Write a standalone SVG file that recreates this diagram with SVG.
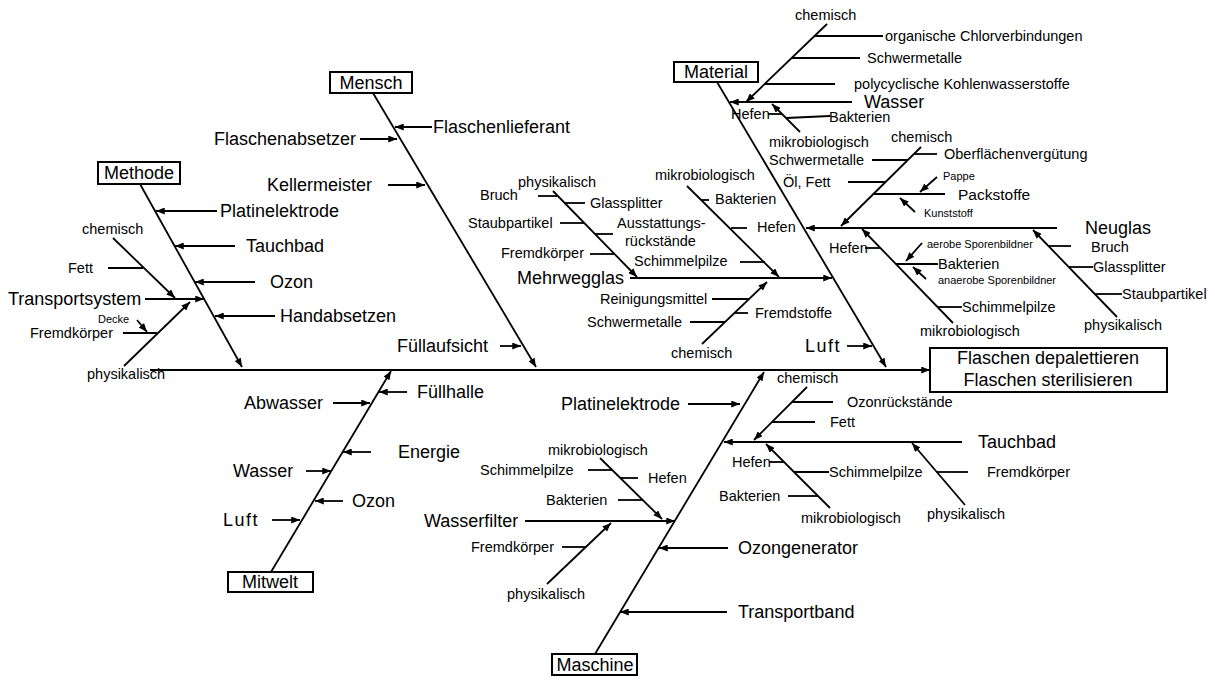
<svg xmlns="http://www.w3.org/2000/svg" width="1215" height="680" viewBox="0 0 1215 680">
  <style>
    text { font-family: "Liberation Sans", Arial, sans-serif; fill: #000; }
    .lg { font-size: 18px; }
    .md { font-size: 14.5px; }
    .sm { font-size: 11px; }
    .ctr { text-anchor: middle; }
    .sp { letter-spacing: 1.5px; }
    .box { fill: #fff; stroke: #000; stroke-width: 2; }
    .ln { stroke: #000; stroke-width: 1.8; fill: none; }
    .ar { stroke: #000; stroke-width: 1.8; fill: none; marker-end: url(#ah); }
  </style>
  <defs>
    <marker id="ah" viewBox="0 0 10 8" refX="10" refY="4" markerWidth="9" markerHeight="7" markerUnits="userSpaceOnUse" orient="auto">
      <path d="M0,0 L10,4 L0,8 z" fill="#000"/>
    </marker>
  </defs>
  <rect width="1215" height="680" fill="#fff"/>

  <!-- connectors: spine, category bones and all cause lines -->
  <g id="connectors">
    <!-- spine -->
    <line class="ar" x1="150" y1="370" x2="930" y2="370"/>

    <!-- Methode -->
    <line class="ar" x1="140" y1="184" x2="242" y2="367"/>
    <line class="ar" x1="217" y1="211" x2="156" y2="211"/>
    <line class="ar" x1="235" y1="246" x2="175" y2="246"/>
    <line class="ar" x1="255" y1="282" x2="195" y2="282"/>
    <line class="ar" x1="275" y1="316" x2="215" y2="316"/>
    <line class="ar" x1="145" y1="299" x2="204" y2="299"/>
    <line class="ar" x1="113" y1="238" x2="175" y2="298"/>
    <line class="ln" x1="108" y1="268" x2="143" y2="268"/>
    <line class="ar" x1="124" y1="366" x2="190" y2="302"/>
    <line class="ln" x1="123" y1="333" x2="157" y2="333"/>
    <line class="ar" x1="137" y1="320" x2="147" y2="332"/>

    <!-- Mensch -->
    <line class="ar" x1="373" y1="93" x2="536" y2="367"/>
    <line class="ar" x1="432" y1="127" x2="395" y2="127"/>
    <line class="ar" x1="360" y1="139" x2="397" y2="139"/>
    <line class="ar" x1="388" y1="185" x2="425" y2="185"/>
    <line class="ar" x1="500" y1="346" x2="521" y2="346"/>

    <!-- Mehrwegglas -->
    <line class="ar" x1="630" y1="278" x2="832" y2="278"/>
    <line class="ar" x1="553" y1="191" x2="637" y2="277"/>
    <line class="ln" x1="538" y1="196" x2="558" y2="196"/>
    <line class="ln" x1="565" y1="203" x2="585" y2="203"/>
    <line class="ln" x1="560" y1="223" x2="584" y2="223"/>
    <line class="ln" x1="595" y1="234" x2="613" y2="234"/>
    <line class="ln" x1="590" y1="254" x2="614" y2="254"/>
    <line class="ar" x1="687" y1="186" x2="779" y2="277"/>
    <line class="ln" x1="701" y1="200" x2="709" y2="200"/>
    <line class="ln" x1="731" y1="228" x2="747" y2="228"/>
    <line class="ln" x1="740" y1="262" x2="765" y2="262"/>
    <line class="ar" x1="702" y1="344" x2="767" y2="282"/>
    <line class="ln" x1="712" y1="299" x2="749" y2="299"/>
    <line class="ln" x1="734" y1="313" x2="748" y2="313"/>
    <line class="ln" x1="690" y1="322" x2="725" y2="322"/>

    <!-- Material -->
    <line class="ar" x1="717" y1="82" x2="886" y2="367"/>
    <line class="ar" x1="852" y1="102" x2="730" y2="102"/>
    <line class="ar" x1="827" y1="24" x2="746" y2="102"/>
    <line class="ln" x1="815" y1="36" x2="883" y2="36"/>
    <line class="ln" x1="792" y1="58" x2="860" y2="58"/>
    <line class="ln" x1="765" y1="84" x2="835" y2="84"/>
    <line class="ar" x1="800" y1="132" x2="772" y2="104"/>
    <line class="ln" x1="768" y1="114" x2="782" y2="114"/>
    <line class="ln" x1="786" y1="118" x2="830" y2="116"/>
    <line class="ar" x1="1057" y1="228" x2="806" y2="228"/>
    <line class="ar" x1="921" y1="147" x2="841" y2="226"/>
    <line class="ln" x1="914" y1="154" x2="937" y2="154"/>
    <line class="ln" x1="872" y1="160" x2="908" y2="160"/>
    <line class="ln" x1="848" y1="182" x2="886" y2="182"/>
    <line class="ln" x1="874" y1="194" x2="945" y2="194"/>
    <line class="ar" x1="937" y1="177" x2="920" y2="192"/>
    <line class="ar" x1="915" y1="212" x2="900" y2="198"/>
    <line class="ar" x1="953" y1="323" x2="862" y2="229"/>
    <line class="ln" x1="865" y1="248" x2="880" y2="248"/>
    <line class="ln" x1="896" y1="264" x2="938" y2="264"/>
    <line class="ar" x1="922" y1="243" x2="906" y2="261"/>
    <line class="ar" x1="926" y1="279" x2="913" y2="267"/>
    <line class="ln" x1="937" y1="307" x2="962" y2="307"/>
    <line class="ar" x1="1117" y1="317" x2="1033" y2="230"/>
    <line class="ln" x1="1048" y1="246" x2="1071" y2="246"/>
    <line class="ln" x1="1069" y1="267" x2="1093" y2="267"/>
    <line class="ln" x1="1095" y1="294" x2="1122" y2="294"/>
    <line class="ar" x1="847" y1="346" x2="872" y2="346"/>

    <!-- Mitwelt -->
    <line class="ar" x1="271" y1="572" x2="391" y2="371"/>
    <line class="ar" x1="407" y1="392" x2="379" y2="392"/>
    <line class="ar" x1="333" y1="403" x2="370" y2="403"/>
    <line class="ar" x1="371" y1="452" x2="343" y2="452"/>
    <line class="ar" x1="306" y1="471" x2="331" y2="471"/>
    <line class="ar" x1="343" y1="501" x2="315" y2="501"/>
    <line class="ar" x1="272" y1="520" x2="300" y2="520"/>

    <!-- Maschine -->
    <line class="ar" x1="595" y1="654" x2="764" y2="372"/>
    <line class="ar" x1="688" y1="404" x2="740" y2="404"/>
    <line class="ar" x1="728" y1="548" x2="659" y2="548"/>
    <line class="ar" x1="727" y1="612" x2="620" y2="612"/>
    <line class="ar" x1="525" y1="521" x2="675" y2="521"/>
    <line class="ar" x1="600" y1="458" x2="662" y2="519"/>
    <line class="ln" x1="588" y1="470" x2="612" y2="470"/>
    <line class="ln" x1="620" y1="478" x2="638" y2="478"/>
    <line class="ln" x1="618" y1="500" x2="642" y2="500"/>
    <line class="ar" x1="547" y1="584" x2="611" y2="523"/>
    <line class="ln" x1="562" y1="547" x2="586" y2="547"/>
    <line class="ar" x1="962" y1="442" x2="724" y2="442"/>
    <line class="ar" x1="807" y1="387" x2="754" y2="440"/>
    <line class="ln" x1="792" y1="402" x2="833" y2="402"/>
    <line class="ln" x1="772" y1="422" x2="815" y2="422"/>
    <line class="ar" x1="830" y1="508" x2="766" y2="444"/>
    <line class="ln" x1="769" y1="462" x2="784" y2="462"/>
    <line class="ln" x1="794" y1="472" x2="829" y2="472"/>
    <line class="ln" x1="788" y1="496" x2="818" y2="496"/>
    <line class="ar" x1="965" y1="505" x2="912" y2="443"/>
    <line class="ln" x1="937" y1="472" x2="968" y2="472"/>
  </g>

  <!-- effect -->
  <g id="effect">
    <rect class="box" x="930" y="348" width="237" height="44"/>
    <text class="lg ctr" x="1048" y="364">Flaschen depalettieren</text>
    <text class="lg ctr" x="1048" y="386">Flaschen sterilisieren</text>
  </g>

  <!-- Methode -->
  <g id="methode">
    <rect class="box" x="98" y="162" width="82" height="22"/>
    <text class="lg ctr" x="139" y="179">Methode</text>
  </g>
  <g id="methode-causes">
    <text class="lg" x="220" y="217">Platinelektrode</text>
    <text class="lg" x="246" y="252">Tauchbad</text>
    <text class="lg" x="270" y="288">Ozon</text>
    <text class="lg" x="280" y="322">Handabsetzen</text>
    <text class="lg" x="8" y="305">Transportsystem</text>
    <text class="md" x="82" y="234">chemisch</text>
    <text class="md" x="68" y="273">Fett</text>
    <text class="md" x="87" y="379">physikalisch</text>
    <text class="md" x="30" y="338">Fremdkörper</text>
    <text class="sm" x="98" y="323">Decke</text>
  </g>

  <!-- Mensch -->
  <g id="mensch">
    <rect class="box" x="330" y="72" width="82" height="21"/>
    <text class="lg ctr" x="371" y="89">Mensch</text>
  </g>
  <g id="mensch-causes">
    <text class="lg" x="433" y="133">Flaschenlieferant</text>
    <text class="lg" x="214" y="145">Flaschenabsetzer</text>
    <text class="lg" x="267" y="191">Kellermeister</text>
    <text class="lg" x="397" y="352">Füllaufsicht</text>
  </g>

  <!-- Mehrwegglas -->
  <g id="mehrwegglas">
    <text class="lg" x="517" y="284">Mehrwegglas</text>
    <text class="md" x="518" y="187">physikalisch</text>
    <text class="md" x="480" y="200">Bruch</text>
    <text class="md" x="590" y="208">Glassplitter</text>
    <text class="md" x="468" y="228">Staubpartikel</text>
    <text class="md" x="617" y="228">Ausstattungs-</text>
    <text class="md" x="625" y="246">rückstände</text>
    <text class="md" x="501" y="258">Fremdkörper</text>
    <text class="md" x="655" y="180">mikrobiologisch</text>
    <text class="md" x="715" y="204">Bakterien</text>
    <text class="md" x="757" y="232">Hefen</text>
    <text class="md" x="634" y="266">Schimmelpilze</text>
    <text class="md" x="671" y="358">chemisch</text>
    <text class="md" x="600" y="304">Reinigungsmittel</text>
    <text class="md" x="755" y="318">Fremdstoffe</text>
    <text class="md" x="587" y="327">Schwermetalle</text>
  </g>

  <!-- Material -->
  <g id="material">
    <rect class="box" x="674" y="62" width="84" height="20"/>
    <text class="lg ctr" x="716" y="78">Material</text>
  </g>
  <g id="wasser">
    <text class="lg" x="864" y="108">Wasser</text>
    <text class="md" x="795" y="20">chemisch</text>
    <text class="md" x="885" y="41">organische Chlorverbindungen</text>
    <text class="md" x="867" y="63">Schwermetalle</text>
    <text class="md" x="854" y="89">polycyclische Kohlenwasserstoffe</text>
    <text class="md" x="769" y="147">mikrobiologisch</text>
    <text class="md" x="731" y="119">Hefen</text>
    <text class="md" x="829" y="122">Bakterien</text>
  </g>
  <g id="neuglas">
    <text class="lg" x="1085" y="234">Neuglas</text>
    <text class="md" x="891" y="142">chemisch</text>
    <text class="md" x="944" y="159">Oberflächenvergütung</text>
    <text class="md" x="769" y="165">Schwermetalle</text>
    <text class="md" x="783" y="187">Öl, Fett</text>
    <text class="md" x="958" y="200" style="font-size:15.5px">Packstoffe</text>
    <text class="sm" x="943" y="180">Pappe</text>
    <text class="sm" x="924" y="217">Kunststoff</text>
    <text class="md" x="920" y="336">mikrobiologisch</text>
    <text class="md" x="829" y="253">Hefen</text>
    <text class="md" x="938" y="269">Bakterien</text>
    <text class="sm" x="927" y="248">aerobe Sporenbildner</text>
    <text class="sm" x="938" y="284">anaerobe Sporenbildner</text>
    <text class="md" x="962" y="312">Schimmelpilze</text>
    <text class="md" x="1084" y="330">physikalisch</text>
    <text class="md" x="1091" y="252">Bruch</text>
    <text class="md" x="1093" y="272">Glassplitter</text>
    <text class="md" x="1122" y="299">Staubpartikel</text>
  </g>
  <g id="material-luft">
    <text class="lg sp" x="805" y="352">Luft</text>
  </g>

  <!-- Mitwelt -->
  <g id="mitwelt">
    <rect class="box" x="228" y="572" width="85" height="20"/>
    <text class="lg ctr" x="270" y="588">Mitwelt</text>
  </g>
  <g id="mitwelt-causes">
    <text class="lg" x="417" y="398">Füllhalle</text>
    <text class="lg" x="244" y="409">Abwasser</text>
    <text class="lg" x="398" y="458">Energie</text>
    <text class="lg" x="233" y="477">Wasser</text>
    <text class="lg" x="352" y="507">Ozon</text>
    <text class="lg sp" x="223" y="526">Luft</text>
  </g>

  <!-- Maschine -->
  <g id="maschine">
    <rect class="box" x="552" y="654" width="85" height="21"/>
    <text class="lg ctr" x="595" y="671">Maschine</text>
  </g>
  <g id="maschine-causes">
    <text class="lg" x="561" y="410">Platinelektrode</text>
    <text class="lg" x="738" y="554">Ozongenerator</text>
    <text class="lg" x="738" y="618">Transportband</text>
  </g>
  <g id="wasserfilter">
    <text class="lg" x="424" y="527">Wasserfilter</text>
    <text class="md" x="548" y="455">mikrobiologisch</text>
    <text class="md" x="480" y="475">Schimmelpilze</text>
    <text class="md" x="648" y="483">Hefen</text>
    <text class="md" x="546" y="505">Bakterien</text>
    <text class="md" x="507" y="599">physikalisch</text>
    <text class="md" x="471" y="552">Fremdkörper</text>
  </g>
  <g id="tauchbad">
    <text class="lg" x="978" y="448">Tauchbad</text>
    <text class="md" x="777" y="383">chemisch</text>
    <text class="md" x="847" y="407">Ozonrückstände</text>
    <text class="md" x="830" y="427">Fett</text>
    <text class="md" x="801" y="523">mikrobiologisch</text>
    <text class="md" x="732" y="467">Hefen</text>
    <text class="md" x="829" y="477">Schimmelpilze</text>
    <text class="md" x="719" y="501">Bakterien</text>
    <text class="md" x="927" y="519">physikalisch</text>
    <text class="md" x="987" y="477">Fremdkörper</text>
  </g>
</svg>
